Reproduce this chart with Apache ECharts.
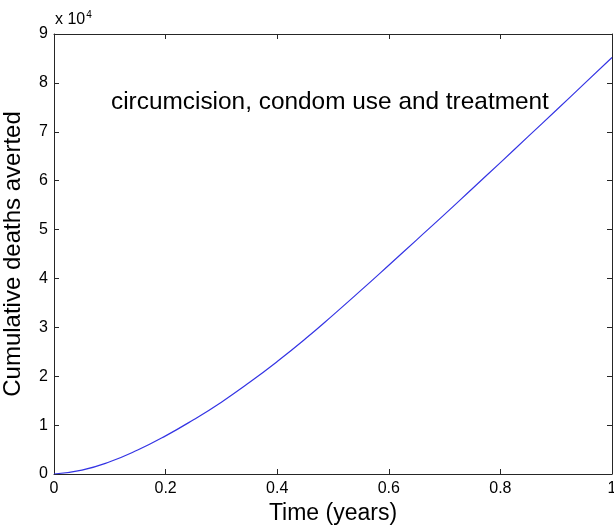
<!DOCTYPE html>
<html>
<head>
<meta charset="utf-8">
<title>Cumulative deaths averted</title>
<script src="https://cdn.jsdelivr.net/npm/echarts@6/dist/echarts.min.js"></script>
<style>
    * {
        margin: 0;
        padding: 0;
    }

    body {
        background-color: #ffffff;
    }

    #chart {
        width: 614px;
        height: 526px;
    }
</style>
</head>
<body>
<div id="chart"></div>
<script>
    // values (deaths in units, time in years)
    var timeYears = [0, 0.05, 0.1, 0.15, 0.2, 0.25, 0.3, 0.35, 0.4, 0.45, 0.5,
        0.55, 0.6, 0.65, 0.7, 0.75, 0.8, 0.85, 0.9, 0.95, 1];
    var deathsAverted = [0, 800, 2500, 4900, 7800, 11100, 14700, 18700, 23000, 27600, 32500,
        37550, 42700, 47900, 53100, 58400, 63700, 69050, 74400, 79800, 85200];
    var xTicks = [0, 0.2, 0.4, 0.6, 0.8, 1];
    var yTickLabels = ['0', '1', '2', '3', '4', '5', '6', '7', '8', '9'];

    var axisColor = '#262626';
    var fontName = '"Liberation Sans", Arial, sans-serif';

    var points = [];
    for (var i = 0; i < timeYears.length; i++) {
        points.push([timeYears[i], deathsAverted[i]]);
    }

    var chart = echarts.init(document.getElementById('chart'));

    // box axes like matlab: ticks on all four sides, pointing in
    function boxAxis(pos, isX) {
        return {
            type: 'value',
            position: pos,
            min: 0,
            max: isX ? 1 : 90000,
            interval: isX ? 0.2 : 10000,
            axisLine: {show: true, onZero: false, lineStyle: {color: axisColor, width: 1}},
            axisTick: {show: true, inside: true, length: 5, lineStyle: {color: axisColor}},
            axisLabel: {show: false},
            splitLine: {show: false}
        };
    }

    var bottomX = boxAxis('bottom', true);
    bottomX.axisLabel = {
        show: true,
        color: '#000',
        fontSize: 16,
        fontFamily: fontName,
        margin: 7,
        formatter: function (v) {
            for (var k = 0; k < xTicks.length; k++) {
                if (Math.abs(v - xTicks[k]) < 1e-9) return String(xTicks[k]);
            }
            return '';
        }
    };
    bottomX.name = 'Time (years)';
    bottomX.nameLocation = 'middle';
    bottomX.nameGap = 28;
    bottomX.nameTextStyle = {color: '#000', fontSize: 23, fontFamily: fontName};

    var leftY = boxAxis('left', false);
    leftY.axisLabel = {
        show: true,
        color: '#000',
        fontSize: 16,
        fontFamily: fontName,
        margin: 6,
        formatter: function (v) {
            return yTickLabels[Math.round(v / 10000)];
        }
    };
    leftY.name = 'Cumulative deaths averted';
    leftY.nameLocation = 'middle';
    leftY.nameGap = 29;
    leftY.nameTextStyle = {color: '#000', fontSize: 24, fontFamily: fontName};

    var option = {
        backgroundColor: '#ffffff',
        animation: false,
        grid: {left: 54, right: 2, top: 34, bottom: 52, containLabel: false, outerBoundsMode: 'none'},
        xAxis: [bottomX, boxAxis('top', true)],
        yAxis: [leftY, boxAxis('right', false)],
        graphic: [
            {
                type: 'text',
                left: 55,
                top: 10,
                style: {
                    text: '{a|x 10}{b|4}',
                    rich: {
                        a: {fontSize: 16, fontFamily: fontName, fill: '#000', verticalAlign: 'bottom'},
                        b: {fontSize: 10, fontFamily: fontName, fill: '#000', verticalAlign: 'top', padding: [0, 0, 8, 1]}
                    }
                }
            },
            {
                type: 'text',
                left: 111,
                top: 90,
                style: {
                    text: 'circumcision, condom use and treatment',
                    fontSize: 24.4,
                    fontFamily: fontName,
                    fill: '#000'
                }
            }
        ],
        series: [
            {
                type: 'line',
                data: points,
                smooth: true,
                showSymbol: false,
                lineStyle: {color: '#3434e4', width: 1.2}
            }
        ]
    };

    chart.setOption(option);
</script>
</body>
</html>
